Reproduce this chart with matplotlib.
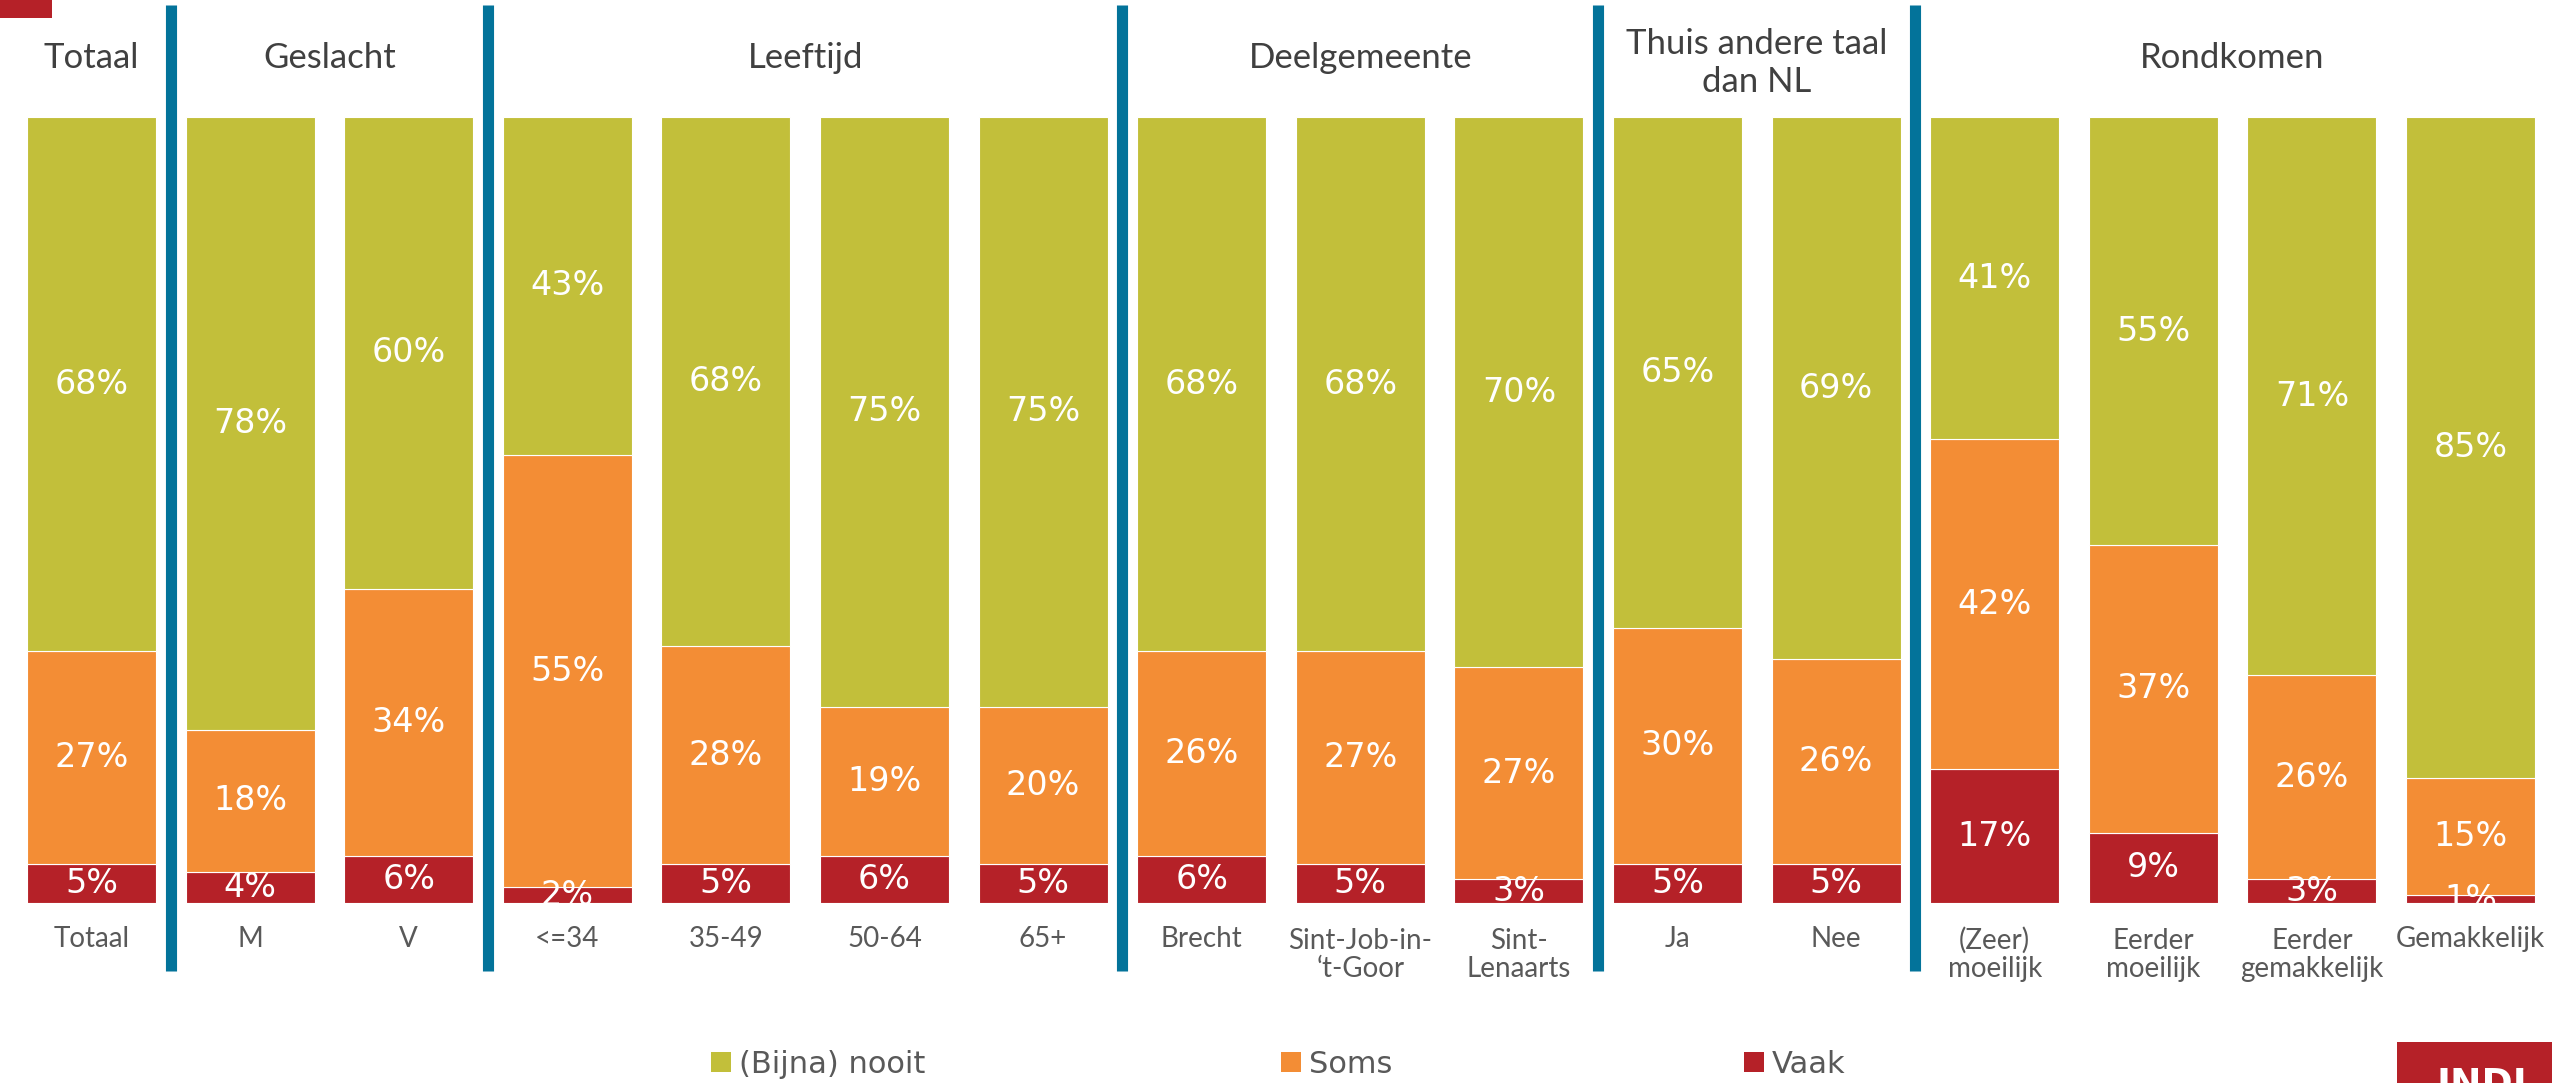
import matplotlib
matplotlib.use("Agg")
import matplotlib.pyplot as plt
from matplotlib.patches import Rectangle
import numpy as np

# ---------------- data ----------------
categories = ["Totaal", "M", "V", "<=34", "35-49", "50-64", "65+", "Brecht",
              "Sint-Job-in-\n\u2018t-Goor", "Sint-\nLenaarts", "Ja", "Nee",
              "(Zeer)\nmoeilijk", "Eerder\nmoeilijk", "Eerder\ngemakkelijk", "Gemakkelijk"]
nooit = [68, 78, 60, 43, 68, 75, 75, 68, 68, 70, 65, 69, 41, 55, 71, 85]
soms = [27, 18, 34, 55, 28, 19, 20, 26, 27, 27, 30, 26, 42, 37, 26, 15]
vaak = [5, 4, 6, 2, 5, 6, 5, 6, 5, 3, 5, 5, 17, 9, 3, 1]
groups = ["Totaal", "Geslacht", "Leeftijd", "Deelgemeente", "Thuis andere taal\ndan NL", "Rondkomen"]
group_sizes = [1, 2, 4, 3, 2, 4]
series_names = ["(Bijna) nooit", "Soms", "Vaak"]

# ---------------- style ----------------
C_GREEN = "#C2BF3A"
C_ORANGE = "#F38D35"
C_RED = "#B52128"
C_BLUE = "#03739A"
C_HEAD = "#404040"
C_LAB = "#595959"

W, H = 2552, 1083
fig = plt.figure(figsize=(W / 100, H / 100), dpi=100)

def fx(px):
    return px / W

def fy(py):
    return 1 - py / H

bar_top, bar_bot = 117, 903
x0_px, pitch = 91.5, 158.6
ax = fig.add_axes([0, fy(bar_bot), 1, (bar_bot - bar_top) / H])
ax.set_xlim(-x0_px / pitch, (W - x0_px) / pitch)
ax.set_ylim(0, 1)
ax.axis("off")

def py2d(py):
    return (bar_bot - py) / (bar_bot - bar_top)

n = len(categories)
x = np.arange(n)
nooit_a = np.array(nooit, float)
soms_a = np.array(soms, float)
vaak_a = np.array(vaak, float)
tot = nooit_a + soms_a + vaak_a
fv, fs, fn = vaak_a / tot, soms_a / tot, nooit_a / tot

bw = 129 / pitch
kw = dict(width=bw, edgecolor="white", linewidth=0.8)
ax.bar(x, fv, color=C_RED, **kw)
ax.bar(x, fs, bottom=fv, color=C_ORANGE, **kw)
ax.bar(x, fn, bottom=fv + fs, color=C_GREEN, **kw)

for i in range(n):
    for val, b, h in ((vaak[i], 0, fv[i]), (soms[i], fv[i], fs[i]), (nooit[i], fv[i] + fs[i], fn[i])):
        ax.text(x[i], b + h / 2, f"{val}%", ha="center", va="center", color="white",
                fontsize=24, family="DejaVu Sans", clip_on=True)
    nl = categories[i].count("\n")
    ax.text(x[i], py2d(947 + 30 * nl), categories[i], ha="center", va="baseline", color=C_LAB,
            fontsize=20, family="Lato", linespacing=1.1, clip_on=False)

# separators and group headers
start = 0
seps = np.cumsum(group_sizes)[:-1] - 0.5
for s in seps:
    ax.plot([s, s], [py2d(971), py2d(5)], color=C_BLUE, lw=8, solid_capstyle="butt", clip_on=False)
for g, sz in zip(groups, group_sizes):
    cx = start + (sz - 1) / 2
    if "\n" in g:
        ax.text(cx, py2d(92), g, ha="center", va="baseline", color=C_HEAD, fontsize=25,
                family="Lato", linespacing=1.25, clip_on=False)
    else:
        ax.text(cx, py2d(68), g, ha="center", va="baseline", color=C_HEAD, fontsize=25,
                family="Lato", clip_on=False)
    start += sz

# legend
leg_sq_x = [711, 1281, 1744]
for name, col, sx in zip(series_names, [C_GREEN, C_ORANGE, C_RED], leg_sq_x):
    fig.add_artist(Rectangle((fx(sx), fy(1072)), fx(20), 20 / H, transform=fig.transFigure,
                             color=col, lw=0))
    fig.text(fx(sx + 28), fy(1073), name, ha="left", va="baseline", color=C_LAB,
             fontsize=22, family="DejaVu Sans")

# decorations: top-left red tab and INDI logo
fig.add_artist(Rectangle((0, fy(18)), fx(52), 18 / H, transform=fig.transFigure, color=C_RED, lw=0))
fig.add_artist(Rectangle((fx(2397), 0), fx(W - 2397), (H - 1042) / H, transform=fig.transFigure,
                         color=C_RED, lw=0))
fig.text(fx(2437), fy(1067), "INDI", ha="left", va="top", color="white", fontsize=27,
         family="DejaVu Sans", weight="bold")

fig.savefig("out.png", dpi=100, facecolor="white")
